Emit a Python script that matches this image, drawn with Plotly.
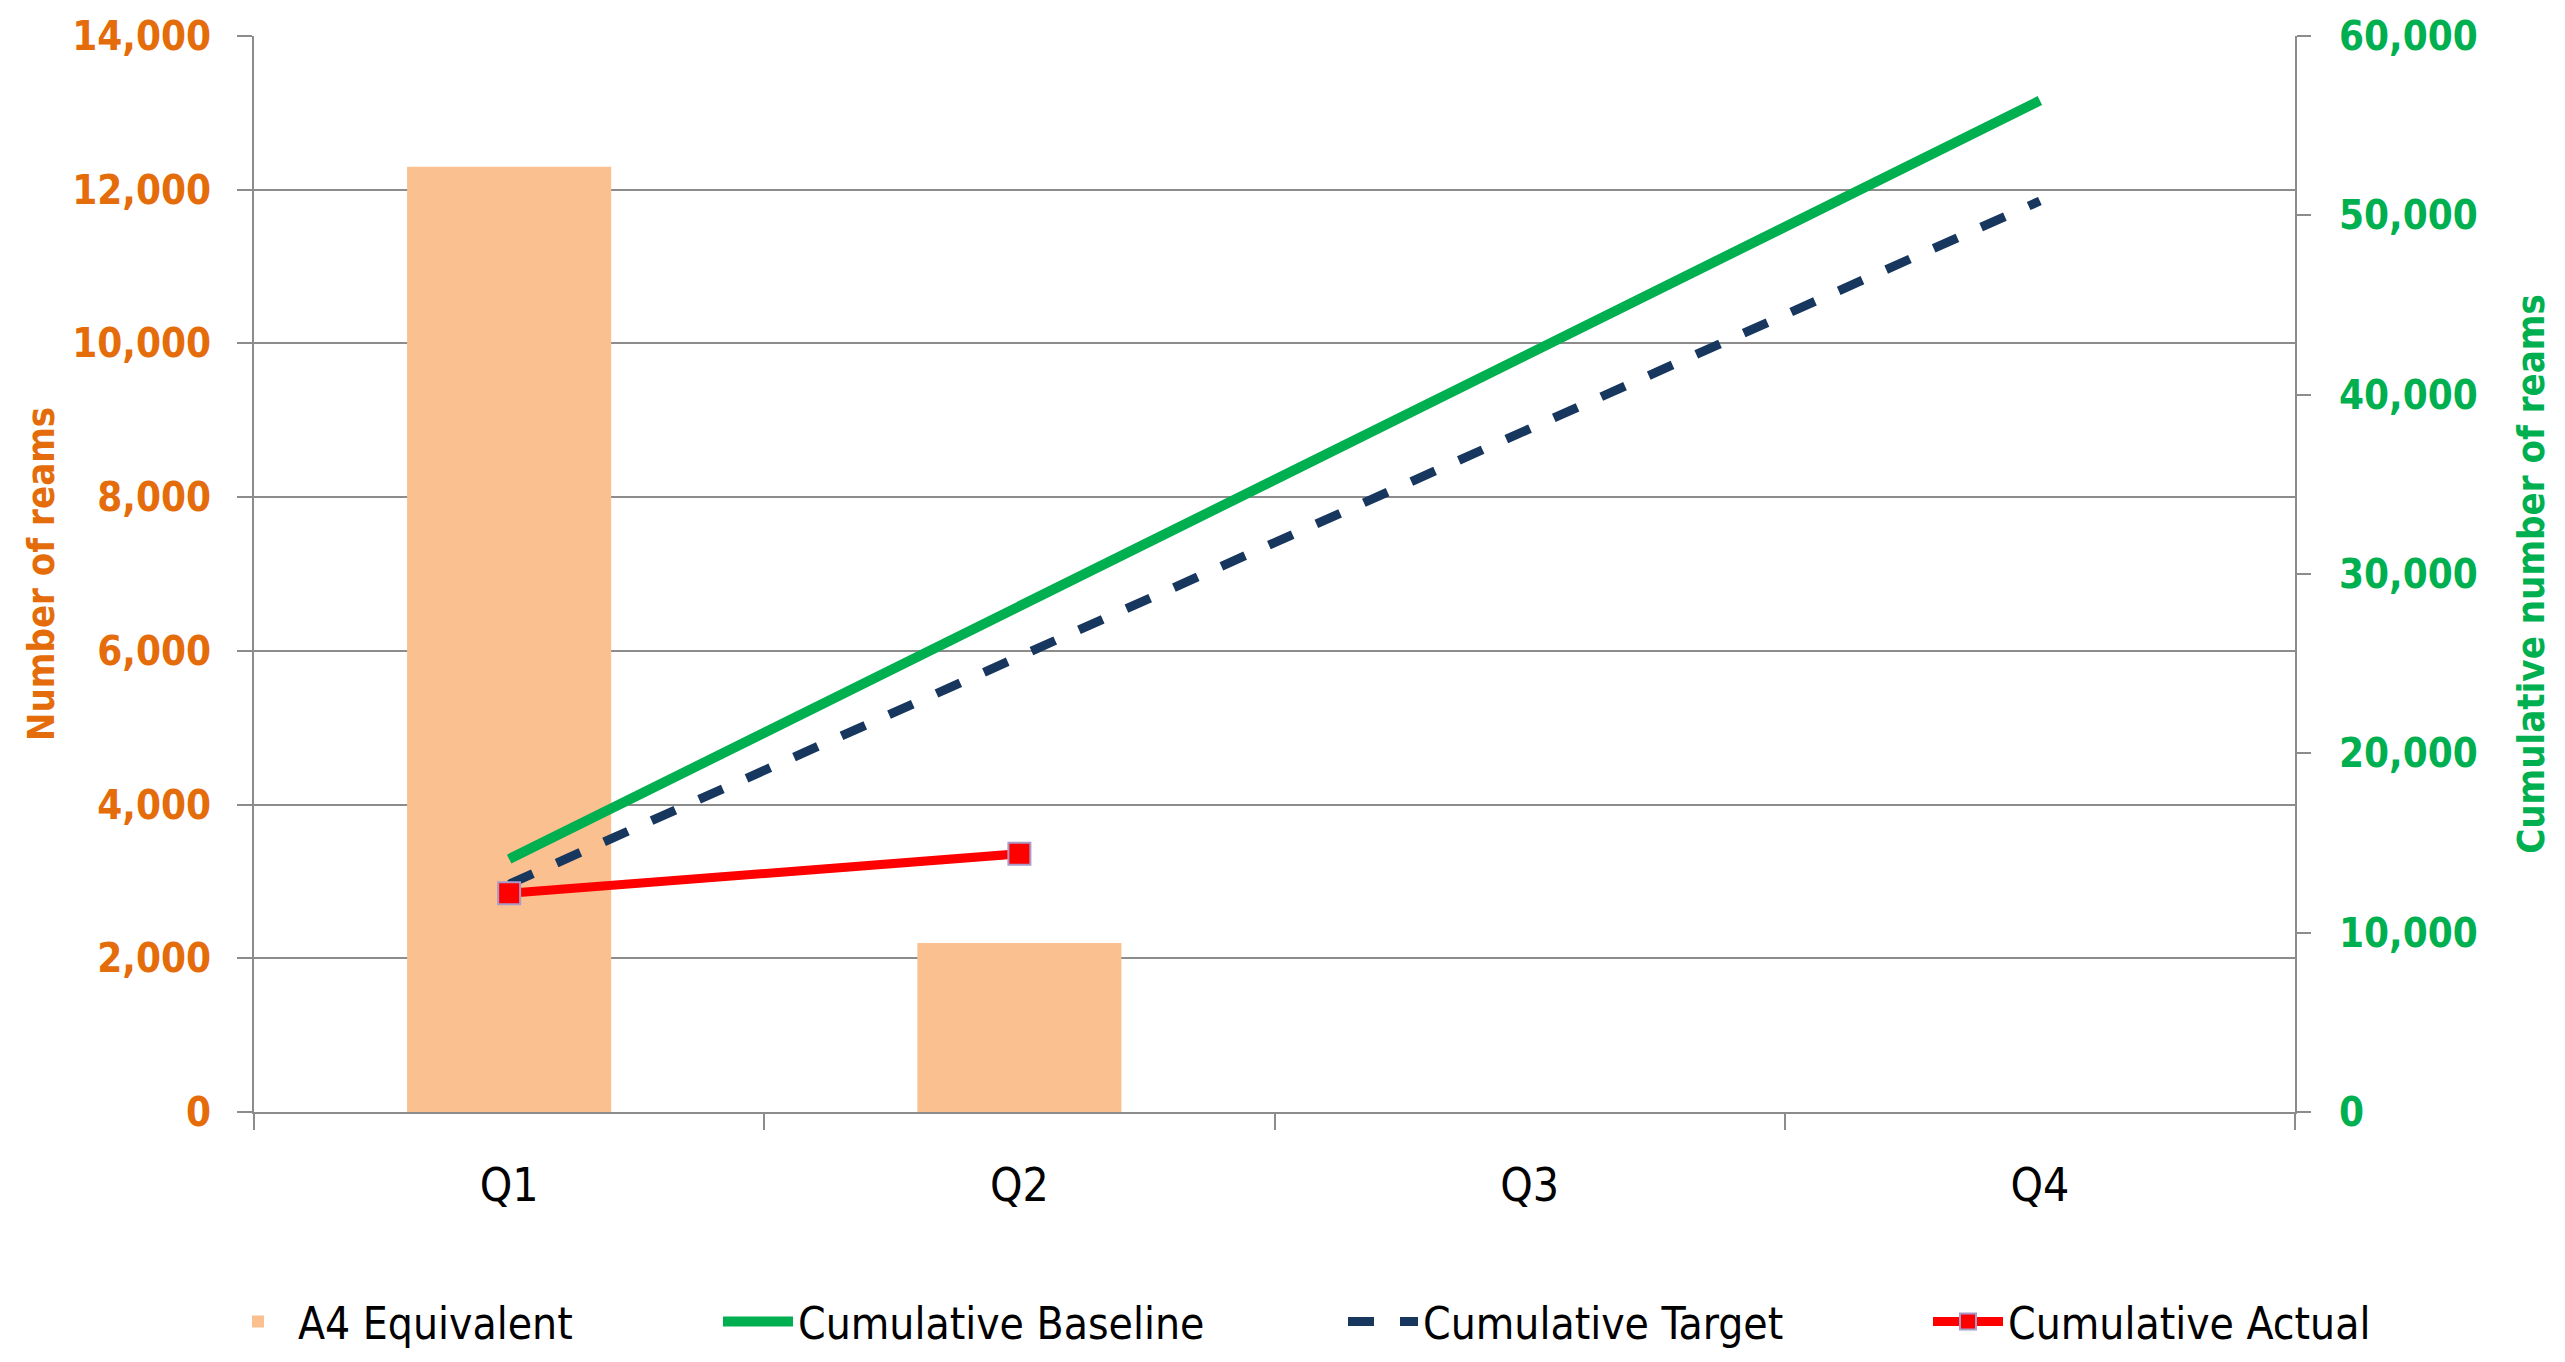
import plotly.graph_objects as go

quarters = ["Q1", "Q2", "Q3", "Q4"]
a4_equivalent = [12300, 2200, None, None]
cum_baseline = [14100, 28200, 42300, 56400]
cum_target = [12700, 25400, 38100, 50800]
cum_actual = [12200, 14400, None, None]

left_ticks = [0, 2000, 4000, 6000, 8000, 10000, 12000, 14000]
right_ticks = [0, 10000, 20000, 30000, 40000, 50000, 60000]

ORANGE = "#E46C0A"
GREEN = "#00B050"
NAVY = "#17375E"
BAR = "#FAC090"
GRID = "#8C8C8C"
FONT = "DejaVu Sans Condensed, sans-serif"

# page body has an 8px margin; compensate so the plot area lands at 254..2295 x 36..1112
OFF = 8
W, H = 2565, 1362
L, R, T, B = 254 - OFF, 270 + OFF, 36 - OFF, 250 + OFF
PW = W - L - R

def px2x(page_p):
    return (page_p - OFF - L) / PW

fig = go.Figure()
fig.add_trace(go.Bar(x=quarters, y=a4_equivalent, name="A4 Equivalent",
                     marker=dict(color=BAR, line=dict(width=0)), width=0.4,
                     yaxis="y", legend="legend"))
fig.add_trace(go.Scatter(x=quarters, y=cum_baseline, name="Cumulative Baseline",
                         mode="lines", line=dict(color=GREEN, width=10),
                         yaxis="y2", legend="legend2"))
fig.add_trace(go.Scatter(x=quarters, y=cum_target, name="Cumulative Target",
                         mode="lines", line=dict(color=NAVY, width=9, dash="26px,26px"),
                         yaxis="y2", legend="legend3"))
fig.add_trace(go.Scatter(x=quarters, y=cum_actual, name="Cumulative Actual",
                         mode="lines+markers", line=dict(color="#FF0000", width=9),
                         marker=dict(symbol="square", size=22, color="#FF0000",
                                     line=dict(color="#A99BC9", width=2)),
                         yaxis="y2", legend="legend4"))

leg_font = dict(family=FONT, size=44, color="black")
leg_y = -0.195
def leg(page_x):
    return dict(x=px2x(page_x), y=leg_y, xanchor="left", yanchor="middle",
                orientation="h", font=leg_font, bgcolor="rgba(0,0,0,0)",
                itemwidth=70, tracegroupgap=0)

fig.update_layout(
    width=W, height=H,
    margin=dict(l=L, r=R, t=T, b=B, autoexpand=False),
    paper_bgcolor="white", plot_bgcolor="white",
    showlegend=True,
    legend=leg(218), legend2=leg(718), legend3=leg(1343), legend4=leg(1928),
    xaxis=dict(type="category", categoryorder="array", categoryarray=quarters,
               range=[-0.5, 3.5], tickson="boundaries", ticks="outside",
               ticklen=16, tickwidth=2, tickcolor=GRID, automargin=False,
               showline=True, linecolor=GRID, linewidth=2, showgrid=False,
               tickfont=dict(family=FONT, size=46, color="black"),
               ticklabelstandoff=32),
    yaxis=dict(range=[0, 14000], tickvals=left_ticks, tickformat=",",
               ticks="outside", ticklen=15, tickwidth=2, tickcolor=GRID,
               showline=True, linecolor=GRID, linewidth=2, automargin=True,
               showgrid=True, gridcolor=GRID, gridwidth=2, zeroline=False,
               tickfont=dict(family=FONT, size=40, color=ORANGE, weight="bold"),
               ticklabelstandoff=18,
               title=dict(text="Number of reams", standoff=6,
                          font=dict(family=FONT, size=38, color=ORANGE, weight="bold"))),
    yaxis2=dict(range=[0, 60000], tickvals=right_ticks, tickformat=",",
                overlaying="y", side="right", automargin=True,
                ticks="outside", ticklen=14, tickwidth=2, tickcolor=GRID,
                showline=True, linecolor=GRID, linewidth=2,
                showgrid=False, zeroline=False,
                tickfont=dict(family=FONT, size=40, color=GREEN, weight="bold"),
                ticklabelstandoff=20,
                title=dict(text="Cumulative number of reams", standoff=41,
                           font=dict(family=FONT, size=38, color=GREEN, weight="bold"))),
)

fig.write_html("out.html")
